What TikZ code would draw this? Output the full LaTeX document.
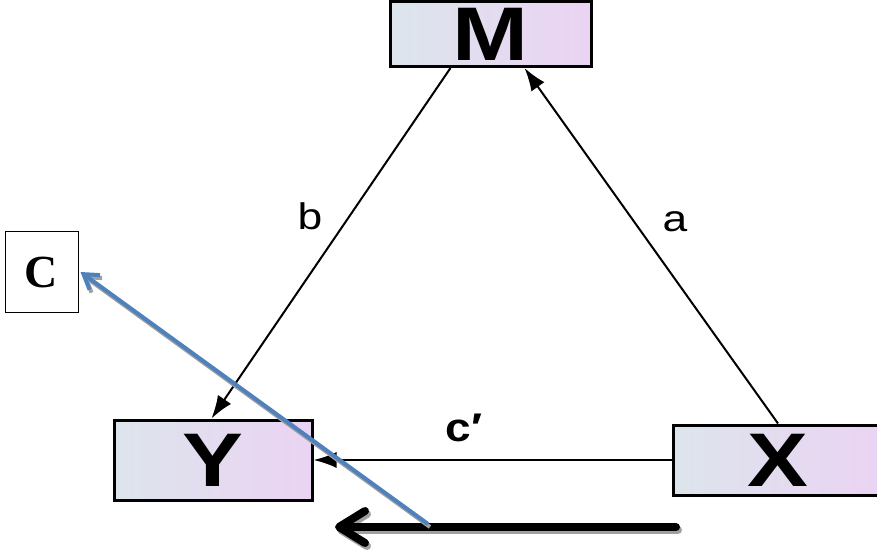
\documentclass[tikz,border=0pt]{standalone}
\usepackage{fontspec}
\setmainfont{Liberation Sans}
\newfontfamily\serifC{Liberation Serif}
\usetikzlibrary{arrows.meta,calc}
\definecolor{boxL}{RGB}{220,229,236}
\definecolor{boxR}{RGB}{235,211,243}
\definecolor{blueln}{RGB}{79,129,189}
\definecolor{shadowgr}{RGB}{160,160,160}
\tikzset{
  varbox/.style={draw=black, line width=3pt, left color=boxL, right color=boxR, inner sep=0pt,
    font=\fontsize{76}{76}\selectfont\bfseries},
  conn/.style={draw=black, line width=2pt, -{Latex[length=23pt,width=16pt]}},
  lbl/.style={font=\fontsize{37}{37}\selectfont, inner sep=0pt},
}
\begin{document}
\begin{tikzpicture}[x=1pt,y=-1pt]
\useasboundingbox (0,0) rectangle (877,553);
% boxes
\node[varbox, minimum width=201pt, minimum height=65pt] (M) at (490.5,34) {\scalebox{1.2}[1]{M}};
\node[varbox, minimum width=198pt, minimum height=80pt] (Y) at (213,460) {\scalebox{1.2}[1]{Y}};
\node[varbox, minimum width=210pt, minimum height=70pt] (X) at (778,460) {\scalebox{1.2}[1]{X}};
\node[draw=black, line width=1pt, fill=white, minimum width=73pt, minimum height=80pt, inner sep=0pt,
  font=\fontsize{46}{46}\serifC\bfseries] (C) at (41.5,272) {C};
% connectors
\draw[conn] ($(M.south west)+(62,0)$) -- ($(Y.north west)+(99,0)$);
\draw[conn] (X.north) -- ($(M.south east)+(-68,0)$);
\draw[conn] (X.west) -- (Y.east);
% labels
\node[lbl] (lb) at (310,216) {\scalebox{1.2}[1]{b}};
\node[lbl] (la) at (675,222) {\scalebox{1.2}[1]{a}};
\node[lbl, font=\fontsize{40}{40}\selectfont\bfseries] (lc) at (464,428) {\scalebox{1.15}[1]{c\char"2032}};
% thick black arrow with shadow
\coordinate (kR) at (676,527);
\coordinate (kL) at (335,527);
\draw[shadowgr, line width=8pt, line cap=round, -{Straight Barb[length=26pt,width=32pt,line cap=round,line join=round]}]
  ($(kR)+(2,3)$) -- ($(kL)+(2,3)$);
\draw[black, line width=8pt, line cap=round, -{Straight Barb[length=26pt,width=32pt,line cap=round,line join=round]}]
  (kR) -- (kL);
% blue arrow with shadow
\coordinate (bS) at (428,524);
\draw[shadowgr, line width=4pt, -{Straight Barb[length=14pt,width=18pt]}] ($(bS)+(2,3)$) -- ($(C.east)+(4,3)$);
\draw[blueln, line width=4pt, -{Straight Barb[length=14pt,width=18pt]}] (bS) -- ($(C.east)+(2,0)$);
\end{tikzpicture}
\end{document}
